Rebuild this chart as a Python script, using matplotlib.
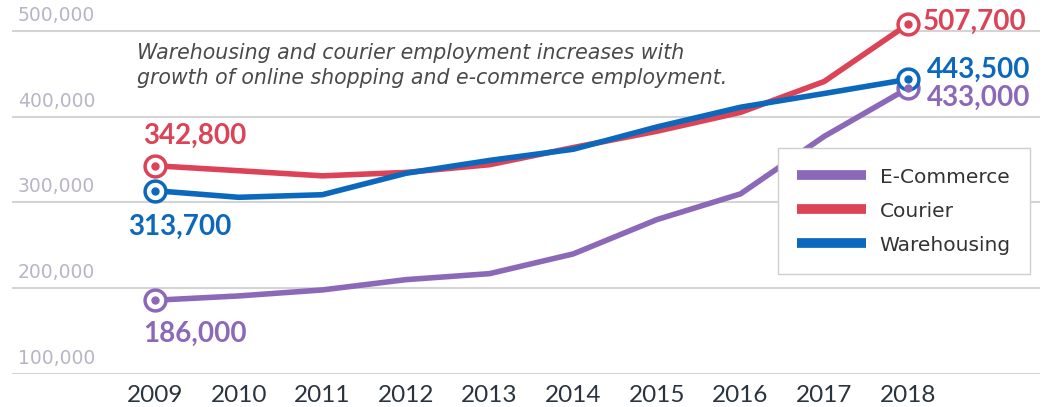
import matplotlib.pyplot as plt

years = [2009, 2010, 2011, 2012, 2013, 2014, 2015, 2016, 2017, 2018]
ecommerce = [186000, 191000, 198000, 210000, 217000, 240000, 280000, 310000, 377000, 433000]
courier = [342800, 337000, 331000, 335000, 344000, 364000, 383000, 405000, 441000, 507700]
warehousing = [313700, 306000, 309000, 334000, 349000, 362000, 388000, 411000, 427000, 443500]

yticks = [100000, 200000, 300000, 400000, 500000]

PURPLE = "#8c68b8"
RED = "#dc4356"
BLUE = "#0b68bd"

# (series, color, label offset for first point, label offset for last point) in pixels
series = [
    ("E-Commerce", ecommerce, PURPLE, (-12, -34), (19, -10)),
    ("Courier", courier, RED, (-12, 30), (15, 2)),
    ("Warehousing", warehousing, BLUE, (-27, -36), (19, 9)),
]

fig = plt.figure(figsize=(10.55, 4.07), dpi=100)
ax = fig.add_axes([12 / 1055, 33 / 407, 1028 / 1055, 374 / 407])

lines = []
for name, vals, col, off0, off1 in series:
    ln, = ax.plot(years, vals, color=col, lw=4, solid_capstyle="round", zorder=3, label=name)
    lines.append(ln)
    ends = [years[0], years[-1]]
    endv = [vals[0], vals[-1]]
    ax.plot(ends, endv, "o", ms=15, mfc="white", mec=col, mew=2.5, zorder=4)
    ax.plot(ends, endv, "o", ms=5, color=col, zorder=5)
    for x, v, off in [(years[0], vals[0], off0), (years[-1], vals[-1], off1)]:
        ax.annotate(f"{v:,}", (x, v), xytext=off, textcoords="offset pixels",
                    ha="left", va="center", color=col, fontsize=20,
                    fontweight="bold", family="Lato", zorder=6)

ax.set_xlim(2007.29, 2019.58)
ax.set_ylim(100000, 536000)

ax.set_yticks(yticks)
ax.set_yticklabels([])
ax.tick_params(axis="y", length=0)
ax.grid(axis="y", color="#d4d4d4", lw=1.5, zorder=0)
for t in yticks:
    ax.text(6 / 1028, t + 7000, f"{t:,}", transform=ax.get_yaxis_transform(),
            ha="left", va="bottom", color="#b9b4c6", fontsize=13.5, zorder=1)

ax.set_xticks(years)
ax.set_xticklabels([str(y) for y in years], fontsize=17.5, color="#2a3340", family="Lato")
ax.tick_params(axis="x", length=0, pad=8)

for s in ax.spines.values():
    s.set_visible(False)

fig.text(137 / 1055, 1 - 43 / 407,
         "Warehousing and courier employment increases with\n"
         "growth of online shopping and e-commerce employment.",
         ha="left", va="top", fontsize=14.8, style="italic", color="#4a4a4a",
         linespacing=1.3)

leg = ax.legend(handles=lines, loc="upper left",
                bbox_to_anchor=(778 / 1055, 1 - 148 / 407), bbox_transform=fig.transFigure,
                fontsize=14.5, handlelength=3.4, handleheight=1.0, handletextpad=0.7,
                labelspacing=0.7, borderpad=0.95, borderaxespad=0, fancybox=False,
                framealpha=1, edgecolor="#cfcfcf")
for h in leg.get_lines():
    h.set_linewidth(7)
    h.set_solid_capstyle("butt")
for t in leg.get_texts():
    t.set_color("#333333")
leg.set_zorder(10)

fig.savefig("out.png", dpi=100)
